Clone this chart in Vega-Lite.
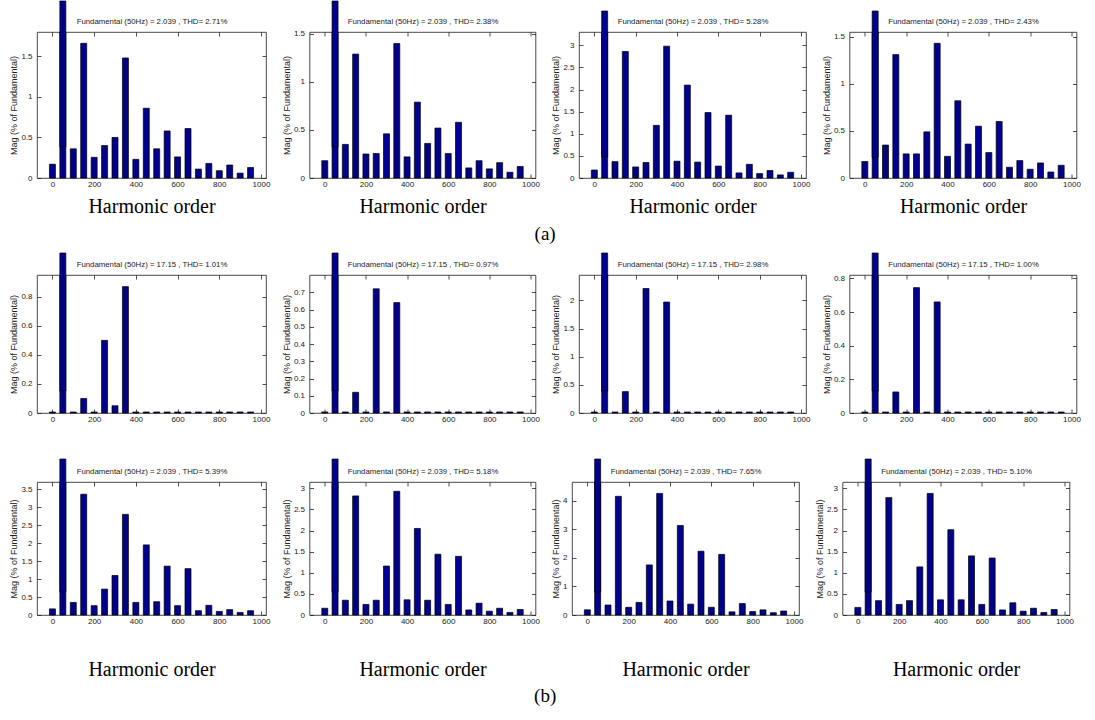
{
"$schema": "https://vega.github.io/schema/vega-lite/v6.json",
"autosize": "pad",
"padding": {"left": 9, "top": 0, "right": 0, "bottom": 0},
"background": "white",
"datasets": {
"p1": [{"f":0,"m":0.17},{"f":50,"m":100},{"f":100,"m":0.36},{"f":150,"m":1.66},{"f":200,"m":0.255},{"f":250,"m":0.4},{"f":300,"m":0.5},{"f":350,"m":1.48},{"f":400,"m":0.23},{"f":450,"m":0.86},{"f":500,"m":0.36},{"f":550,"m":0.58},{"f":600,"m":0.26},{"f":650,"m":0.61},{"f":700,"m":0.11},{"f":750,"m":0.18},{"f":800,"m":0.09},{"f":850,"m":0.16},{"f":900,"m":0.06},{"f":950,"m":0.13}],
"p2": [{"f":0,"m":0.18},{"f":50,"m":100},{"f":100,"m":0.35},{"f":150,"m":1.29},{"f":200,"m":0.25},{"f":250,"m":0.255},{"f":300,"m":0.46},{"f":350,"m":1.4},{"f":400,"m":0.22},{"f":450,"m":0.79},{"f":500,"m":0.36},{"f":550,"m":0.52},{"f":600,"m":0.255},{"f":650,"m":0.58},{"f":700,"m":0.105},{"f":750,"m":0.18},{"f":800,"m":0.095},{"f":850,"m":0.16},{"f":900,"m":0.06},{"f":950,"m":0.12}],
"p3": [{"f":0,"m":0.18},{"f":50,"m":100},{"f":100,"m":0.37},{"f":150,"m":2.86},{"f":200,"m":0.25},{"f":250,"m":0.35},{"f":300,"m":1.19},{"f":350,"m":2.98},{"f":400,"m":0.38},{"f":450,"m":2.1},{"f":500,"m":0.36},{"f":550,"m":1.48},{"f":600,"m":0.27},{"f":650,"m":1.42},{"f":700,"m":0.115},{"f":750,"m":0.31},{"f":800,"m":0.1},{"f":850,"m":0.17},{"f":900,"m":0.07},{"f":950,"m":0.13}],
"p4": [{"f":0,"m":0.175},{"f":50,"m":100},{"f":100,"m":0.35},{"f":150,"m":1.31},{"f":200,"m":0.256},{"f":250,"m":0.256},{"f":300,"m":0.49},{"f":350,"m":1.43},{"f":400,"m":0.23},{"f":450,"m":0.82},{"f":500,"m":0.36},{"f":550,"m":0.55},{"f":600,"m":0.27},{"f":650,"m":0.6},{"f":700,"m":0.114},{"f":750,"m":0.185},{"f":800,"m":0.093},{"f":850,"m":0.16},{"f":900,"m":0.064},{"f":950,"m":0.135}],
"p5": [{"f":0,"m":0.007},{"f":50,"m":100},{"f":100,"m":0.007},{"f":150,"m":0.1},{"f":200,"m":0.007},{"f":250,"m":0.5},{"f":300,"m":0.05},{"f":350,"m":0.87},{"f":400,"m":0.007},{"f":450,"m":0.007},{"f":500,"m":0.007},{"f":550,"m":0.007},{"f":600,"m":0.007},{"f":650,"m":0.007},{"f":700,"m":0.007},{"f":750,"m":0.007},{"f":800,"m":0.007},{"f":850,"m":0.007},{"f":900,"m":0.007},{"f":950,"m":0.007}],
"p6": [{"f":0,"m":0.006},{"f":50,"m":100},{"f":100,"m":0.006},{"f":150,"m":0.12},{"f":200,"m":0.006},{"f":250,"m":0.72},{"f":300,"m":0.006},{"f":350,"m":0.64},{"f":400,"m":0.006},{"f":450,"m":0.006},{"f":500,"m":0.006},{"f":550,"m":0.006},{"f":600,"m":0.006},{"f":650,"m":0.006},{"f":700,"m":0.006},{"f":750,"m":0.006},{"f":800,"m":0.006},{"f":850,"m":0.006},{"f":900,"m":0.006},{"f":950,"m":0.006}],
"p7": [{"f":0,"m":0.018},{"f":50,"m":100},{"f":100,"m":0.018},{"f":150,"m":0.38},{"f":200,"m":0.018},{"f":250,"m":2.21},{"f":300,"m":0.018},{"f":350,"m":1.97},{"f":400,"m":0.018},{"f":450,"m":0.018},{"f":500,"m":0.018},{"f":550,"m":0.018},{"f":600,"m":0.018},{"f":650,"m":0.018},{"f":700,"m":0.018},{"f":750,"m":0.018},{"f":800,"m":0.018},{"f":850,"m":0.018},{"f":900,"m":0.018},{"f":950,"m":0.018}],
"p8": [{"f":0,"m":0.006},{"f":50,"m":100},{"f":100,"m":0.006},{"f":150,"m":0.125},{"f":200,"m":0.006},{"f":250,"m":0.745},{"f":300,"m":0.006},{"f":350,"m":0.66},{"f":400,"m":0.006},{"f":450,"m":0.006},{"f":500,"m":0.006},{"f":550,"m":0.006},{"f":600,"m":0.006},{"f":650,"m":0.006},{"f":700,"m":0.006},{"f":750,"m":0.006},{"f":800,"m":0.006},{"f":850,"m":0.006},{"f":900,"m":0.006},{"f":950,"m":0.006}],
"p9": [{"f":0,"m":0.17},{"f":50,"m":100},{"f":100,"m":0.35},{"f":150,"m":3.36},{"f":200,"m":0.26},{"f":250,"m":0.72},{"f":300,"m":1.1},{"f":350,"m":2.8},{"f":400,"m":0.35},{"f":450,"m":1.95},{"f":500,"m":0.37},{"f":550,"m":1.36},{"f":600,"m":0.26},{"f":650,"m":1.29},{"f":700,"m":0.12},{"f":750,"m":0.27},{"f":800,"m":0.1},{"f":850,"m":0.15},{"f":900,"m":0.07},{"f":950,"m":0.12}],
"p10": [{"f":0,"m":0.16},{"f":50,"m":100},{"f":100,"m":0.35},{"f":150,"m":2.82},{"f":200,"m":0.25},{"f":250,"m":0.35},{"f":300,"m":1.16},{"f":350,"m":2.93},{"f":400,"m":0.36},{"f":450,"m":2.05},{"f":500,"m":0.35},{"f":550,"m":1.44},{"f":600,"m":0.25},{"f":650,"m":1.39},{"f":700,"m":0.12},{"f":750,"m":0.28},{"f":800,"m":0.09},{"f":850,"m":0.16},{"f":900,"m":0.06},{"f":950,"m":0.13}],
"p11": [{"f":0,"m":0.18},{"f":50,"m":100},{"f":100,"m":0.35},{"f":150,"m":4.15},{"f":200,"m":0.27},{"f":250,"m":0.44},{"f":300,"m":1.75},{"f":350,"m":4.25},{"f":400,"m":0.49},{"f":450,"m":3.13},{"f":500,"m":0.38},{"f":550,"m":2.23},{"f":600,"m":0.27},{"f":650,"m":2.12},{"f":700,"m":0.11},{"f":750,"m":0.4},{"f":800,"m":0.12},{"f":850,"m":0.18},{"f":900,"m":0.08},{"f":950,"m":0.14}],
"p12": [{"f":0,"m":0.18},{"f":50,"m":100},{"f":100,"m":0.34},{"f":150,"m":2.78},{"f":200,"m":0.25},{"f":250,"m":0.34},{"f":300,"m":1.14},{"f":350,"m":2.88},{"f":400,"m":0.36},{"f":450,"m":2.02},{"f":500,"m":0.36},{"f":550,"m":1.4},{"f":600,"m":0.25},{"f":650,"m":1.35},{"f":700,"m":0.12},{"f":750,"m":0.29},{"f":800,"m":0.09},{"f":850,"m":0.16},{"f":900,"m":0.06},{"f":950,"m":0.13}]
},
"spacing": 8,
"vconcat": [
{
"spacing": 10.5,
"title": {"text": "(a)", "orient": "bottom", "anchor": "middle", "offset": 8, "baseline": "top", "font": "Liberation Serif", "fontSize": 19, "fontWeight": "normal", "color": "#000"},
"hconcat": [
{"width": 229, "height": 146, "data": {"name": "p1"}, "layer": [
{"transform": [{"filter": "datum.f != 50"}], "mark": {"type": "bar", "width": 6, "fill": "#00008a", "stroke": "#000", "strokeWidth": 0.7},
"encoding": {"x": {"field": "f", "type": "quantitative", "scale": {"domain": [-50, 1000], "nice": false, "zero": false}, "axis": {"orient": "bottom", "values": [0,200,400,600,800,1000], "title": "Harmonic order", "titlePadding": 8.5}},
"y": {"field": "m", "type": "quantitative", "scale": {"domain": [0, 1.8], "nice": false, "clamp": true}, "axis": {"orient": "left", "values": [0,0.5,1,1.5], "title": "Mag (% of Fundamental)"}}}},
{"transform": [{"filter": "datum.f == 50"}], "mark": {"type": "bar", "width": 6, "fill": "#00008a", "stroke": "#000", "strokeWidth": 0.7},
"encoding": {"x": {"field": "f", "type": "quantitative", "axis": {"orient": "top", "values": [0,200,400,600,800,1000], "title": "Fundamental (50Hz) = 2.039 , THD= 2.71%"}},
"y": {"field": "m", "type": "quantitative", "axis": {"orient": "right", "values": [0,0.5,1,1.5], "title": null}}}},
{"transform": [{"filter": "datum.f == 50"}], "mark": {"type": "bar", "width": 6, "fill": "#00008a", "stroke": "#000", "strokeWidth": 0.7, "yOffset": -31, "y2Offset": 0},
"encoding": {"x": {"field": "f", "type": "quantitative", "axis": null}, "y": {"field": "m", "type": "quantitative", "axis": null}}}
]},
{"width": 226, "height": 146, "data": {"name": "p2"}, "layer": [
{"transform": [{"filter": "datum.f != 50"}], "mark": {"type": "bar", "width": 6, "fill": "#00008a", "stroke": "#000", "strokeWidth": 0.7},
"encoding": {"x": {"field": "f", "type": "quantitative", "scale": {"domain": [-50, 1000], "nice": false, "zero": false}, "axis": {"orient": "bottom", "values": [0,200,400,600,800,1000], "title": "Harmonic order", "titlePadding": 8.5}},
"y": {"field": "m", "type": "quantitative", "scale": {"domain": [0, 1.52], "nice": false, "clamp": true}, "axis": {"orient": "left", "values": [0,0.5,1,1.5], "title": "Mag (% of Fundamental)"}}}},
{"transform": [{"filter": "datum.f == 50"}], "mark": {"type": "bar", "width": 6, "fill": "#00008a", "stroke": "#000", "strokeWidth": 0.7},
"encoding": {"x": {"field": "f", "type": "quantitative", "axis": {"orient": "top", "values": [0,200,400,600,800,1000], "title": "Fundamental (50Hz) = 2.039 , THD= 2.38%"}},
"y": {"field": "m", "type": "quantitative", "axis": {"orient": "right", "values": [0,0.5,1,1.5], "title": null}}}},
{"transform": [{"filter": "datum.f == 50"}], "mark": {"type": "bar", "width": 6, "fill": "#00008a", "stroke": "#000", "strokeWidth": 0.7, "yOffset": -31, "y2Offset": 0},
"encoding": {"x": {"field": "f", "type": "quantitative", "axis": null}, "y": {"field": "m", "type": "quantitative", "axis": null}}}
]},
{"width": 227, "height": 146, "data": {"name": "p3"}, "layer": [
{"transform": [{"filter": "datum.f != 50"}], "mark": {"type": "bar", "width": 6, "fill": "#00008a", "stroke": "#000", "strokeWidth": 0.7},
"encoding": {"x": {"field": "f", "type": "quantitative", "scale": {"domain": [-50, 1000], "nice": false, "zero": false}, "axis": {"orient": "bottom", "values": [0,200,400,600,800,1000], "title": "Harmonic order", "titlePadding": 8.5}},
"y": {"field": "m", "type": "quantitative", "scale": {"domain": [0, 3.3], "nice": false, "clamp": true}, "axis": {"orient": "left", "values": [0,0.5,1,1.5,2,2.5,3], "title": "Mag (% of Fundamental)"}}}},
{"transform": [{"filter": "datum.f == 50"}], "mark": {"type": "bar", "width": 6, "fill": "#00008a", "stroke": "#000", "strokeWidth": 0.7},
"encoding": {"x": {"field": "f", "type": "quantitative", "axis": {"orient": "top", "values": [0,200,400,600,800,1000], "title": "Fundamental (50Hz) = 2.039 , THD= 5.28%"}},
"y": {"field": "m", "type": "quantitative", "axis": {"orient": "right", "values": [0,0.5,1,1.5,2,2.5,3], "title": null}}}},
{"transform": [{"filter": "datum.f == 50"}], "mark": {"type": "bar", "width": 6, "fill": "#00008a", "stroke": "#000", "strokeWidth": 0.7, "yOffset": -21, "y2Offset": 0},
"encoding": {"x": {"field": "f", "type": "quantitative", "axis": null}, "y": {"field": "m", "type": "quantitative", "axis": null}}}
]},
{"width": 227, "height": 146, "data": {"name": "p4"}, "layer": [
{"transform": [{"filter": "datum.f != 50"}], "mark": {"type": "bar", "width": 6, "fill": "#00008a", "stroke": "#000", "strokeWidth": 0.7},
"encoding": {"x": {"field": "f", "type": "quantitative", "scale": {"domain": [-50, 1000], "nice": false, "zero": false}, "axis": {"orient": "bottom", "values": [0,200,400,600,800,1000], "title": "Harmonic order", "titlePadding": 8.5}},
"y": {"field": "m", "type": "quantitative", "scale": {"domain": [0, 1.55], "nice": false, "clamp": true}, "axis": {"orient": "left", "values": [0,0.5,1,1.5], "title": "Mag (% of Fundamental)"}}}},
{"transform": [{"filter": "datum.f == 50"}], "mark": {"type": "bar", "width": 6, "fill": "#00008a", "stroke": "#000", "strokeWidth": 0.7},
"encoding": {"x": {"field": "f", "type": "quantitative", "axis": {"orient": "top", "values": [0,200,400,600,800,1000], "title": "Fundamental (50Hz) = 2.039 , THD= 2.43%"}},
"y": {"field": "m", "type": "quantitative", "axis": {"orient": "right", "values": [0,0.5,1,1.5], "title": null}}}},
{"transform": [{"filter": "datum.f == 50"}], "mark": {"type": "bar", "width": 6, "fill": "#00008a", "stroke": "#000", "strokeWidth": 0.7, "yOffset": -21, "y2Offset": 0},
"encoding": {"x": {"field": "f", "type": "quantitative", "axis": null}, "y": {"field": "m", "type": "quantitative", "axis": null}}}
]}
]
},
{
"spacing": 34,
"title": {"text": "(b)", "orient": "bottom", "anchor": "middle", "offset": 8, "baseline": "top", "font": "Liberation Serif", "fontSize": 19, "fontWeight": "normal", "color": "#000"},
"vconcat": [
{
"spacing": 10.5,
"hconcat": [
{"width": 229, "height": 138, "data": {"name": "p5"}, "layer": [
{"transform": [{"filter": "datum.f != 50"}], "mark": {"type": "bar", "width": 6, "fill": "#00008a", "stroke": "#000", "strokeWidth": 0.7},
"encoding": {"x": {"field": "f", "type": "quantitative", "scale": {"domain": [-50, 1000], "nice": false, "zero": false}, "axis": {"orient": "bottom", "values": [0,200,400,600,800,1000], "title": null}},
"y": {"field": "m", "type": "quantitative", "scale": {"domain": [0, 0.95], "nice": false, "clamp": true}, "axis": {"orient": "left", "values": [0,0.2,0.4,0.6,0.8], "title": "Mag (% of Fundamental)"}}}},
{"transform": [{"filter": "datum.f == 50"}], "mark": {"type": "bar", "width": 6, "fill": "#00008a", "stroke": "#000", "strokeWidth": 0.7},
"encoding": {"x": {"field": "f", "type": "quantitative", "axis": {"orient": "top", "values": [0,200,400,600,800,1000], "title": "Fundamental (50Hz) = 17.15 , THD= 1.01%"}},
"y": {"field": "m", "type": "quantitative", "axis": {"orient": "right", "values": [0,0.2,0.4,0.6,0.8], "title": null}}}},
{"transform": [{"filter": "datum.f == 50"}], "mark": {"type": "bar", "width": 6, "fill": "#00008a", "stroke": "#000", "strokeWidth": 0.7, "yOffset": -22, "y2Offset": 0},
"encoding": {"x": {"field": "f", "type": "quantitative", "axis": null}, "y": {"field": "m", "type": "quantitative", "axis": null}}}
]},
{"width": 226, "height": 138, "data": {"name": "p6"}, "layer": [
{"transform": [{"filter": "datum.f != 50"}], "mark": {"type": "bar", "width": 6, "fill": "#00008a", "stroke": "#000", "strokeWidth": 0.7},
"encoding": {"x": {"field": "f", "type": "quantitative", "scale": {"domain": [-50, 1000], "nice": false, "zero": false}, "axis": {"orient": "bottom", "values": [0,200,400,600,800,1000], "title": null}},
"y": {"field": "m", "type": "quantitative", "scale": {"domain": [0, 0.8], "nice": false, "clamp": true}, "axis": {"orient": "left", "values": [0,0.1,0.2,0.3,0.4,0.5,0.6,0.7], "title": "Mag (% of Fundamental)"}}}},
{"transform": [{"filter": "datum.f == 50"}], "mark": {"type": "bar", "width": 6, "fill": "#00008a", "stroke": "#000", "strokeWidth": 0.7},
"encoding": {"x": {"field": "f", "type": "quantitative", "axis": {"orient": "top", "values": [0,200,400,600,800,1000], "title": "Fundamental (50Hz) = 17.15 , THD= 0.97%"}},
"y": {"field": "m", "type": "quantitative", "axis": {"orient": "right", "values": [0,0.1,0.2,0.3,0.4,0.5,0.6,0.7], "title": null}}}},
{"transform": [{"filter": "datum.f == 50"}], "mark": {"type": "bar", "width": 6, "fill": "#00008a", "stroke": "#000", "strokeWidth": 0.7, "yOffset": -22, "y2Offset": 0},
"encoding": {"x": {"field": "f", "type": "quantitative", "axis": null}, "y": {"field": "m", "type": "quantitative", "axis": null}}}
]},
{"width": 227, "height": 138, "data": {"name": "p7"}, "layer": [
{"transform": [{"filter": "datum.f != 50"}], "mark": {"type": "bar", "width": 6, "fill": "#00008a", "stroke": "#000", "strokeWidth": 0.7},
"encoding": {"x": {"field": "f", "type": "quantitative", "scale": {"domain": [-50, 1000], "nice": false, "zero": false}, "axis": {"orient": "bottom", "values": [0,200,400,600,800,1000], "title": null}},
"y": {"field": "m", "type": "quantitative", "scale": {"domain": [0, 2.45], "nice": false, "clamp": true}, "axis": {"orient": "left", "values": [0,0.5,1,1.5,2], "title": "Mag (% of Fundamental)"}}}},
{"transform": [{"filter": "datum.f == 50"}], "mark": {"type": "bar", "width": 6, "fill": "#00008a", "stroke": "#000", "strokeWidth": 0.7},
"encoding": {"x": {"field": "f", "type": "quantitative", "axis": {"orient": "top", "values": [0,200,400,600,800,1000], "title": "Fundamental (50Hz) = 17.15 , THD= 2.98%"}},
"y": {"field": "m", "type": "quantitative", "axis": {"orient": "right", "values": [0,0.5,1,1.5,2], "title": null}}}},
{"transform": [{"filter": "datum.f == 50"}], "mark": {"type": "bar", "width": 6, "fill": "#00008a", "stroke": "#000", "strokeWidth": 0.7, "yOffset": -22, "y2Offset": 0},
"encoding": {"x": {"field": "f", "type": "quantitative", "axis": null}, "y": {"field": "m", "type": "quantitative", "axis": null}}}
]},
{"width": 227, "height": 138, "data": {"name": "p8"}, "layer": [
{"transform": [{"filter": "datum.f != 50"}], "mark": {"type": "bar", "width": 6, "fill": "#00008a", "stroke": "#000", "strokeWidth": 0.7},
"encoding": {"x": {"field": "f", "type": "quantitative", "scale": {"domain": [-50, 1000], "nice": false, "zero": false}, "axis": {"orient": "bottom", "values": [0,200,400,600,800,1000], "title": null}},
"y": {"field": "m", "type": "quantitative", "scale": {"domain": [0, 0.82], "nice": false, "clamp": true}, "axis": {"orient": "left", "values": [0,0.2,0.4,0.6,0.8], "title": "Mag (% of Fundamental)"}}}},
{"transform": [{"filter": "datum.f == 50"}], "mark": {"type": "bar", "width": 6, "fill": "#00008a", "stroke": "#000", "strokeWidth": 0.7},
"encoding": {"x": {"field": "f", "type": "quantitative", "axis": {"orient": "top", "values": [0,200,400,600,800,1000], "title": "Fundamental (50Hz) = 17.15 , THD= 1.00%"}},
"y": {"field": "m", "type": "quantitative", "axis": {"orient": "right", "values": [0,0.2,0.4,0.6,0.8], "title": null}}}},
{"transform": [{"filter": "datum.f == 50"}], "mark": {"type": "bar", "width": 6, "fill": "#00008a", "stroke": "#000", "strokeWidth": 0.7, "yOffset": -22, "y2Offset": 0},
"encoding": {"x": {"field": "f", "type": "quantitative", "axis": null}, "y": {"field": "m", "type": "quantitative", "axis": null}}}
]}
]
},
{
"spacing": 10.5,
"hconcat": [
{"width": 229, "height": 133, "data": {"name": "p9"}, "layer": [
{"transform": [{"filter": "datum.f != 50"}], "mark": {"type": "bar", "width": 6, "fill": "#00008a", "stroke": "#000", "strokeWidth": 0.7},
"encoding": {"x": {"field": "f", "type": "quantitative", "scale": {"domain": [-50, 1000], "nice": false, "zero": false}, "axis": {"orient": "bottom", "values": [0,200,400,600,800,1000], "title": "Harmonic order", "titlePadding": 34}},
"y": {"field": "m", "type": "quantitative", "scale": {"domain": [0, 3.7], "nice": false, "clamp": true}, "axis": {"orient": "left", "values": [0,0.5,1,1.5,2,2.5,3,3.5], "title": "Mag (% of Fundamental)"}}}},
{"transform": [{"filter": "datum.f == 50"}], "mark": {"type": "bar", "width": 6, "fill": "#00008a", "stroke": "#000", "strokeWidth": 0.7},
"encoding": {"x": {"field": "f", "type": "quantitative", "axis": {"orient": "top", "values": [0,200,400,600,800,1000], "title": "Fundamental (50Hz) = 2.039 , THD= 5.39%"}},
"y": {"field": "m", "type": "quantitative", "axis": {"orient": "right", "values": [0,0.5,1,1.5,2,2.5,3,3.5], "title": null}}}},
{"transform": [{"filter": "datum.f == 50"}], "mark": {"type": "bar", "width": 6, "fill": "#00008a", "stroke": "#000", "strokeWidth": 0.7, "yOffset": -23, "y2Offset": 0},
"encoding": {"x": {"field": "f", "type": "quantitative", "axis": null}, "y": {"field": "m", "type": "quantitative", "axis": null}}}
]},
{"width": 226, "height": 133, "data": {"name": "p10"}, "layer": [
{"transform": [{"filter": "datum.f != 50"}], "mark": {"type": "bar", "width": 6, "fill": "#00008a", "stroke": "#000", "strokeWidth": 0.7},
"encoding": {"x": {"field": "f", "type": "quantitative", "scale": {"domain": [-50, 1000], "nice": false, "zero": false}, "axis": {"orient": "bottom", "values": [0,200,400,600,800,1000], "title": "Harmonic order", "titlePadding": 34}},
"y": {"field": "m", "type": "quantitative", "scale": {"domain": [0, 3.15], "nice": false, "clamp": true}, "axis": {"orient": "left", "values": [0,0.5,1,1.5,2,2.5,3], "title": "Mag (% of Fundamental)"}}}},
{"transform": [{"filter": "datum.f == 50"}], "mark": {"type": "bar", "width": 6, "fill": "#00008a", "stroke": "#000", "strokeWidth": 0.7},
"encoding": {"x": {"field": "f", "type": "quantitative", "axis": {"orient": "top", "values": [0,200,400,600,800,1000], "title": "Fundamental (50Hz) = 2.039 , THD= 5.18%"}},
"y": {"field": "m", "type": "quantitative", "axis": {"orient": "right", "values": [0,0.5,1,1.5,2,2.5,3], "title": null}}}},
{"transform": [{"filter": "datum.f == 50"}], "mark": {"type": "bar", "width": 6, "fill": "#00008a", "stroke": "#000", "strokeWidth": 0.7, "yOffset": -23, "y2Offset": 0},
"encoding": {"x": {"field": "f", "type": "quantitative", "axis": null}, "y": {"field": "m", "type": "quantitative", "axis": null}}}
]},
{"width": 227, "height": 133, "data": {"name": "p11"}, "layer": [
{"transform": [{"filter": "datum.f != 50"}], "mark": {"type": "bar", "width": 6, "fill": "#00008a", "stroke": "#000", "strokeWidth": 0.7},
"encoding": {"x": {"field": "f", "type": "quantitative", "scale": {"domain": [-50, 1000], "nice": false, "zero": false}, "axis": {"orient": "bottom", "values": [0,200,400,600,800,1000], "title": "Harmonic order", "titlePadding": 34}},
"y": {"field": "m", "type": "quantitative", "scale": {"domain": [0, 4.65], "nice": false, "clamp": true}, "axis": {"orient": "left", "values": [0,1,2,3,4], "title": "Mag (% of Fundamental)"}}}},
{"transform": [{"filter": "datum.f == 50"}], "mark": {"type": "bar", "width": 6, "fill": "#00008a", "stroke": "#000", "strokeWidth": 0.7},
"encoding": {"x": {"field": "f", "type": "quantitative", "axis": {"orient": "top", "values": [0,200,400,600,800,1000], "title": "Fundamental (50Hz) = 2.039 , THD= 7.65%"}},
"y": {"field": "m", "type": "quantitative", "axis": {"orient": "right", "values": [0,1,2,3,4], "title": null}}}},
{"transform": [{"filter": "datum.f == 50"}], "mark": {"type": "bar", "width": 6, "fill": "#00008a", "stroke": "#000", "strokeWidth": 0.7, "yOffset": -23, "y2Offset": 0},
"encoding": {"x": {"field": "f", "type": "quantitative", "axis": null}, "y": {"field": "m", "type": "quantitative", "axis": null}}}
]},
{"width": 227, "height": 133, "data": {"name": "p12"}, "layer": [
{"transform": [{"filter": "datum.f != 50"}], "mark": {"type": "bar", "width": 6, "fill": "#00008a", "stroke": "#000", "strokeWidth": 0.7},
"encoding": {"x": {"field": "f", "type": "quantitative", "scale": {"domain": [-50, 1000], "nice": false, "zero": false}, "axis": {"orient": "bottom", "values": [0,200,400,600,800,1000], "title": "Harmonic order", "titlePadding": 34}},
"y": {"field": "m", "type": "quantitative", "scale": {"domain": [0, 3.15], "nice": false, "clamp": true}, "axis": {"orient": "left", "values": [0,0.5,1,1.5,2,2.5,3], "title": "Mag (% of Fundamental)"}}}},
{"transform": [{"filter": "datum.f == 50"}], "mark": {"type": "bar", "width": 6, "fill": "#00008a", "stroke": "#000", "strokeWidth": 0.7},
"encoding": {"x": {"field": "f", "type": "quantitative", "axis": {"orient": "top", "values": [0,200,400,600,800,1000], "title": "Fundamental (50Hz) = 2.039 , THD= 5.10%"}},
"y": {"field": "m", "type": "quantitative", "axis": {"orient": "right", "values": [0,0.5,1,1.5,2,2.5,3], "title": null}}}},
{"transform": [{"filter": "datum.f == 50"}], "mark": {"type": "bar", "width": 6, "fill": "#00008a", "stroke": "#000", "strokeWidth": 0.7, "yOffset": -23, "y2Offset": 0},
"encoding": {"x": {"field": "f", "type": "quantitative", "axis": null}, "y": {"field": "m", "type": "quantitative", "axis": null}}}
]}
]
}
]
}
],
"config": {
"view": {"stroke": "#1a1a1a", "strokeWidth": 0.8},
"axis": {"grid": false, "domain": false, "tickSize": -4, "tickColor": "#222", "tickWidth": 0.8, "labelFont": "Liberation Sans", "labelFontSize": 8, "labelColor": "#222", "labelPadding": 6, "labelFlush": false, "labelOverlap": false, "labelBound": false, "format": "~g", "titleFontWeight": "normal", "titleColor": "#222"},
"axisLeft": {"labelPadding": 9, "titleFont": "Liberation Sans", "titleFontSize": 9, "titlePadding": 2},
"axisBottom": {"format": "d", "titleFont": "Liberation Serif", "titleFontSize": 20, "titleColor": "#000"},
"axisTop": {"labels": false, "titleFont": "Liberation Sans", "titleFontSize": 7.8, "titlePadding": 6},
"axisRight": {"labels": false}
}
}
